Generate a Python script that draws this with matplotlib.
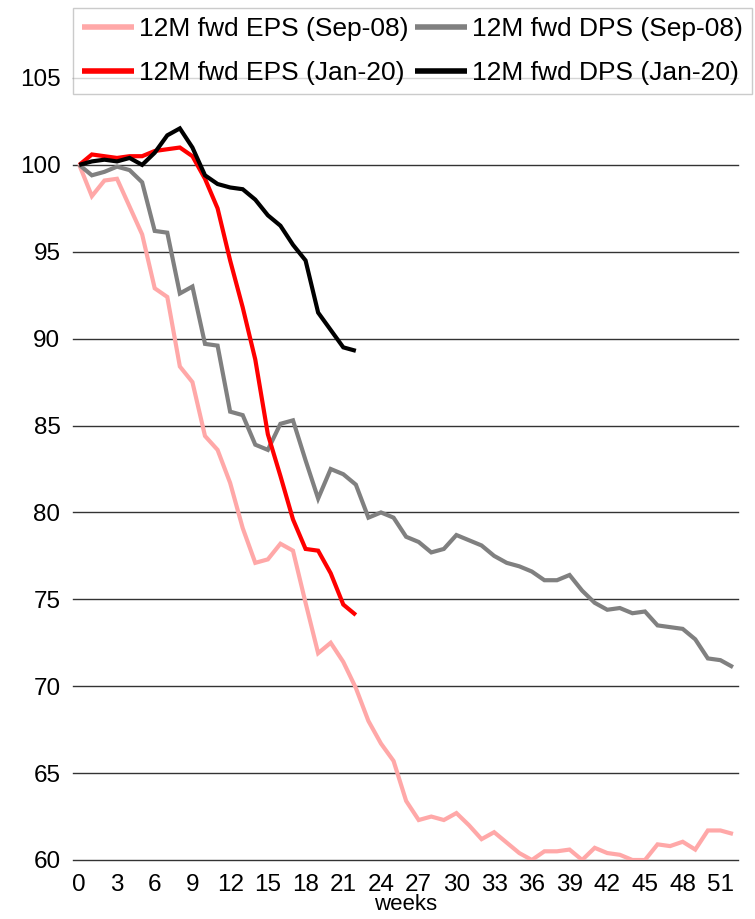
import matplotlib
matplotlib.use("Agg")
import matplotlib.pyplot as plt
import numpy as np

plt.rcParams['font.family'] = ['Liberation Sans', 'DejaVu Sans']

weeks = list(range(53))
x_ticks = list(range(0, 52, 3))
y_ticks = [60, 65, 70, 75, 80, 85, 90, 95, 100, 105]

eps_sep08 = [100, 98.2, 99.1, 99.2, 97.6, 96.0, 92.9, 92.4, 88.4, 87.5,
             84.4, 83.6, 81.7, 79.1, 77.1, 77.3, 78.2, 77.8, 74.8, 71.9,
             72.5, 71.4, 69.9, 68.0, 66.7, 65.7, 63.4, 62.3, 62.5, 62.3,
             62.7, 62.0, 61.2, 61.6, 61.0, 60.4, 60.0, 60.5, 60.5, 60.6,
             60.0, 60.7, 60.4, 60.3, 60.0, 60.0, 60.9, 60.8, 61.05, 60.6,
             61.7, 61.7, 61.5]
dps_sep08 = [100, 99.4, 99.6, 99.9, 99.7, 99.0, 96.2, 96.1, 92.6, 93.0,
             89.7, 89.6, 85.8, 85.6, 83.9, 83.6, 85.1, 85.3, 83.0, 80.8,
             82.5, 82.2, 81.6, 79.7, 80.0, 79.7, 78.6, 78.3, 77.7, 77.9,
             78.7, 78.4, 78.1, 77.5, 77.1, 76.9, 76.6, 76.1, 76.1, 76.4,
             75.5, 74.8, 74.4, 74.5, 74.2, 74.3, 73.5, 73.4, 73.3, 72.7,
             71.6, 71.5, 71.1]
eps_jan20 = [100, 100.6, 100.5, 100.4, 100.5, 100.5, 100.8, 100.9, 101.0, 100.5,
             99.2, 97.5, 94.5, 91.8, 88.8, 84.5, 82.1, 79.6, 77.9, 77.8,
             76.5, 74.7, 74.1]
dps_jan20 = [100, 100.2, 100.3, 100.2, 100.4, 100.0, 100.7, 101.7, 102.1, 101.0,
             99.4, 98.9, 98.7, 98.6, 98.0, 97.1, 96.5, 95.4, 94.5, 91.5,
             90.5, 89.5, 89.3]

series = [
    ("12M fwd EPS (Sep-08)", eps_sep08, "#FFA8A8"),
    ("12M fwd DPS (Sep-08)", dps_sep08, "#808080"),
    ("12M fwd EPS (Jan-20)", eps_jan20, "#FF0000"),
    ("12M fwd DPS (Jan-20)", dps_jan20, "#000000"),
]

W, H = 755, 919
fig = plt.figure(figsize=(W / 100, H / 100), dpi=100)
ax = fig.add_axes([73 / W, 1 - 860 / H, 665 / W, 782 / H])

handles = []
for label, vals, col in series:
    h, = ax.plot(weeks[:len(vals)], vals, color=col, lw=3.0, label=label,
                 solid_joinstyle='miter', solid_capstyle='butt')
    handles.append(h)

ax.set_xlim(-0.5, 52.4)
ax.set_ylim(60, 105)
ax.set_yticks(y_ticks)
ax.set_xticks(x_ticks)
ax.yaxis.grid(True, color='#333333', lw=1.0)
for gl in ax.yaxis.get_gridlines():
    gl.set_clip_on(False)
ax.set_axisbelow(True)
for s in ax.spines.values():
    s.set_visible(False)
ax.tick_params(axis='both', length=0, labelsize=17.5, colors='black')
ax.tick_params(axis='x', pad=10)
ax.tick_params(axis='y', pad=9)
ax.set_xlabel('weeks', fontsize=16, labelpad=-1)

# column-wise fill: reorder so rows read Sep-08 / Jan-20
order = [0, 2, 1, 3]
leg = fig.legend([handles[i] for i in order], [series[i][0] for i in order],
                 loc='upper left', bbox_to_anchor=(73 / W, 1 - 8 / H),
                 ncol=2, fontsize=19, frameon=True, fancybox=False,
                 edgecolor='#BFBFBF', handlelength=1.95, handletextpad=0.2,
                 columnspacing=0.25, labelspacing=0.75, borderpad=0.35,
                 borderaxespad=0)
leg.get_frame().set_linewidth(1.0)
for line in leg.get_lines():
    line.set_linewidth(4)

fig.savefig("out.png", dpi=100)
